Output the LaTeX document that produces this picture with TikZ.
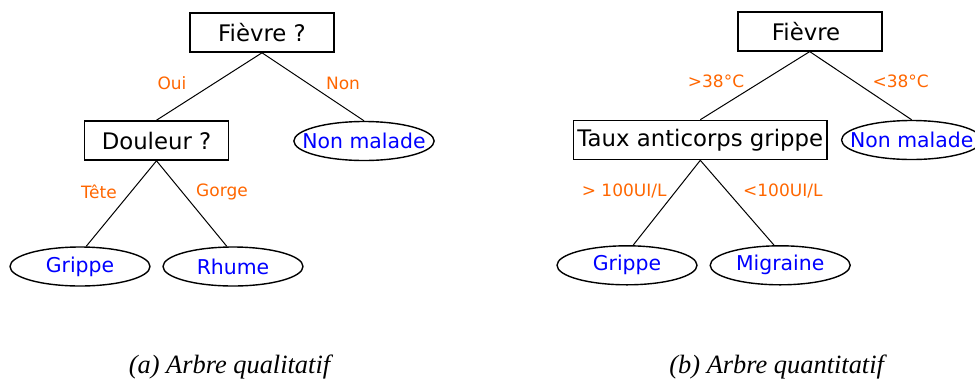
\documentclass[tikz,border=0pt]{standalone}
\usepackage{fontspec}
\setmainfont{DejaVu Sans}
\newfontfamily\capfont{Liberation Serif}
\usetikzlibrary{shapes.geometric}
\definecolor{branchorange}{RGB}{255,102,0}
\definecolor{leafblue}{RGB}{0,0,255}
\tikzset{
    testbox/.style={draw, line width=0.8pt, minimum width=72pt, minimum height=19.5pt,
        inner xsep=2pt, inner ysep=0pt, font=\fontsize{11.4}{13}\selectfont},
    leaf/.style={draw, ellipse, line width=0.7pt, minimum width=70pt, minimum height=19.5pt,
        inner xsep=-6pt, inner ysep=0pt, text=leafblue, font=\fontsize{10.2}{12}\selectfont},
    branchlab/.style={text=branchorange, inner sep=0pt, font=\fontsize{8.5}{10}\selectfont},
    subcap/.style={inner sep=0pt, font=\capfont\itshape\fontsize{13.2}{15}\selectfont},
    branch/.style={line width=0.5pt}
}
\begin{document}
\begin{tikzpicture}[x=0.5pt, y=-0.5pt]
    \useasboundingbox (0,0) rectangle (975,381);
    % (a) qualitative tree
    \node[testbox] (fa) at (262,32.5) {Fièvre ?};
    \node[testbox] (da) at (156.5,140.5) {Douleur ?};
    \node[leaf] (nma) at (364,141) {Non malade};
    \node[leaf] (ga) at (80,266.5) {Grippe};
    \node[leaf] (ra) at (233,266.5) {Rhume};
    \draw[branch] (fa.south) -- (da.north);
    \draw[branch] (fa.south) -- (nma.north);
    \draw[branch] (da.south) -- (ga.73);
    \draw[branch] (da.south) -- (ra.107);
    \node[branchlab] (oui) at (172,83) {Oui};
    \node[branchlab] (non) at (343,83) {Non};
    \node[branchlab] (tete) at (99,192) {Tête};
    \node[branchlab] (gorge) at (222,192) {Gorge};
    \node[subcap] (capa) at (229.5,367) {(a) Arbre qualitatif};
    % (b) quantitative tree
    \node[testbox] (fb) at (809.7,31.3) {Fièvre~~};
    \node[testbox] (tb) at (700.3,140) {Taux anticorps grippe};
    \node[leaf] (nmb) at (911.7,140) {Non malade};
    \node[leaf] (gb) at (627,265.3) {Grippe};
    \node[leaf] (mb) at (780.2,265.3) {Migraine};
    \draw[branch] (fb.south) -- (tb.north);
    \draw[branch] (fb.south) -- (nmb.north);
    \draw[branch] (tb.south) -- (gb.73);
    \draw[branch] (tb.south) -- (mb.107);
    \node[branchlab] (hot) at (716,81.7) {>38°C};
    \node[branchlab] (cold) at (900.7,81.7) {<38°C};
    \node[branchlab] (high) at (624.2,190.7) {> 100UI/L};
    \node[branchlab] (low) at (782.8,190.7) {<100UI/L};
    \node[subcap] (capb) at (776.7,367) {(b) Arbre quantitatif};
\end{tikzpicture}
\end{document}
